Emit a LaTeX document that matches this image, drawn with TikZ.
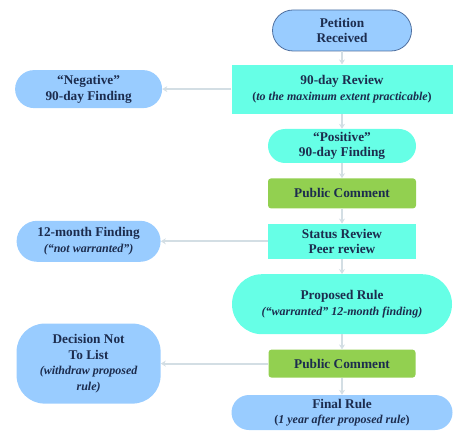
\documentclass[tikz,border=0pt]{standalone}
\usepackage{fontspec}
\setmainfont{Liberation Serif}
\usepackage{tikz}
\usetikzlibrary{positioning,arrows.meta}
\definecolor{skyblue}{HTML}{99CCFF}
\definecolor{aqua}{HTML}{66FFE6}
\definecolor{leaf}{HTML}{92D050}
\definecolor{ink}{HTML}{1C2C4E}
\definecolor{rim}{HTML}{4F6F9F}
\definecolor{wire}{HTML}{D3DEE4}
\tikzset{
	flow/.style={x=1pt,y=-1pt,node distance=15pt,
		font=\fontsize{13.3}{15.6}\selectfont\bfseries},
	finding/.style={rectangle,fill=skyblue,text=ink,align=center,inner sep=2pt},
	review/.style={rectangle,fill=aqua,text=ink,align=center,inner sep=2pt},
	comment/.style={rectangle,rounded corners=3pt,fill=leaf,text=ink,align=center,inner sep=2pt},
	link/.style={-{Stealth[length=5pt,width=6pt]},color=wire,line width=2.2pt}
}
\newcommand{\smallit}[1]{{\fontsize{12}{14.5}\selectfont\itshape #1}}
\newcommand{\smallup}[1]{{\fontsize{12}{14.5}\selectfont #1}}

\begin{document}
\begin{tikzpicture}[flow]
	\useasboundingbox (0,0) rectangle (462,443);
	
	\node[finding, draw=rim, line width=0.8pt, rounded corners=20.5pt, minimum width=139pt, minimum height=41pt] (pet) at (342,30.5) {Petition\\Received};
	\node[review, minimum width=221pt, minimum height=49pt] (rev) [below=13pt of pet] {90-day Review\\ \smallup{(\textit{to the maximum extent practicable})}};
	\node[review, rounded corners=17pt, minimum width=148pt, minimum height=34pt] (pos) [below= of rev] {``Positive''\\90-day Finding};
	\node[comment, minimum width=148pt, minimum height=30pt] (pcone) [below= of pos] {Public Comment};
	\node[review, minimum width=148pt, minimum height=35pt] (stat) [below= of pcone] {Status Review\\Peer review};
	\node[review, rounded corners=30pt, minimum width=220pt, minimum height=60pt] (prop) [below= of stat] {Proposed Rule\\ \smallit{(``warranted'' 12-month finding)}};
	\node[comment, minimum width=147pt, minimum height=28pt] (pctwo) [below= of prop] {Public Comment};
	\node[finding, rounded corners=17.5pt, minimum width=221pt, minimum height=35pt] (fin) [below=17pt of pctwo] {Final Rule\\ \smallup{(\textit{1 year after proposed rule})}};
	
	\node[finding, rounded corners=19pt, minimum width=147pt, minimum height=38pt] (neg) [left=69pt of rev] {``Negative''\\90-day Finding};
	\node[finding, rounded corners=20.5pt, minimum width=144pt, minimum height=41pt] (notw) at (neg |- stat) {12-month Finding\\ \smallit{(``not warranted'')}};
	\node[finding, rounded corners=28pt, minimum width=144pt, minimum height=80pt] (nolist) at (neg |- pctwo) {Decision Not\\To List\\ \smallit{(withdraw proposed}\\ \smallit{rule)}};
	
	\path[link] (pet) edge (rev);
	\path[link] (rev) edge (pos);
	\path[link] (pos) edge (pcone);
	\path[link] (pcone) edge (stat);
	\path[link] (stat) edge (prop);
	\path[link] (prop) edge (pctwo);
	\path[link] (pctwo) edge (fin);
	\path[link] (rev) edge (neg);
	\path[link] (stat) edge (notw);
	\path[link] (pctwo) edge (nolist);
\end{tikzpicture}
\end{document}
